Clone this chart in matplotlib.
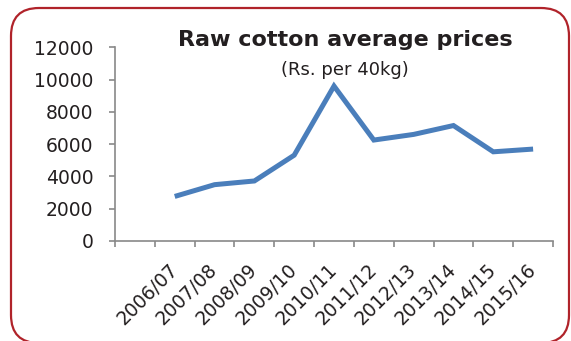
import matplotlib.pyplot as plt
from matplotlib.patches import FancyBboxPatch
from matplotlib.transforms import IdentityTransform

# Raw cotton average prices, Rs. per 40kg (first slot left empty)
seasons = ['', '2006/07', '2007/08', '2008/09', '2009/10', '2010/11',
           '2011/12', '2012/13', '2013/14', '2014/15', '2015/16']
prices = [None, 2750, 3480, 3710, 5310, 9600, 6250, 6600, 7150, 5520, 5690]
yticks = [0, 2000, 4000, 6000, 8000, 10000, 12000]

text_color = '#231f20'
axis_color = '#898989'

fig = plt.figure(figsize=(5.71, 3.41), dpi=100)
ax = fig.add_axes([0.2014, 0.294, 0.7671, 0.567])

xs = [i + 0.5 for i, p in enumerate(prices) if p is not None]
ys = [p for p in prices if p is not None]
ax.plot(xs, ys, color='#4a7ebb', linewidth=3.6, solid_joinstyle='miter',
        solid_capstyle='butt')

ax.set_xlim(0, len(seasons))
ax.set_ylim(0, 12000)
ax.set_yticks(yticks)
ax.set_yticklabels([str(v) for v in yticks])
ax.set_xticks(range(len(seasons) + 1))
ax.set_xticklabels([])
ax.set_xticks([i + 0.5 for i in range(len(seasons))], minor=True)
ax.set_xticklabels(seasons, minor=True, rotation=45, ha='right', va='center',
                   rotation_mode='anchor')

for side in ['top', 'right']:
    ax.spines[side].set_visible(False)
for side in ['left', 'bottom']:
    ax.spines[side].set_color(axis_color)
    ax.spines[side].set_linewidth(1.2)

ax.tick_params(axis='y', which='major', length=4.5, width=1.2, color=axis_color,
               labelsize=13.5, labelcolor=text_color, pad=11)
ax.tick_params(axis='x', which='major', length=4.5, width=1.2, color=axis_color)
ax.tick_params(axis='x', which='minor', length=0, labelsize=13.5,
               labelcolor=text_color, pad=19)

fig.text(0.604, 0.883, 'Raw cotton average prices', ha='center', va='center',
         fontsize=16, fontweight='heavy', color=text_color)
fig.text(0.604, 0.795, '(Rs. per 40kg)', ha='center', va='center',
         fontsize=13, color=text_color)

# rounded frame round the whole panel, in pixel units
frame = FancyBboxPatch((11, -2), 558, 335, boxstyle='round,pad=0,rounding_size=28',
                       transform=IdentityTransform(), facecolor='none',
                       edgecolor='#b0232a', linewidth=1.6)
fig.patches.append(frame)

fig.savefig('out.png', dpi=100)
